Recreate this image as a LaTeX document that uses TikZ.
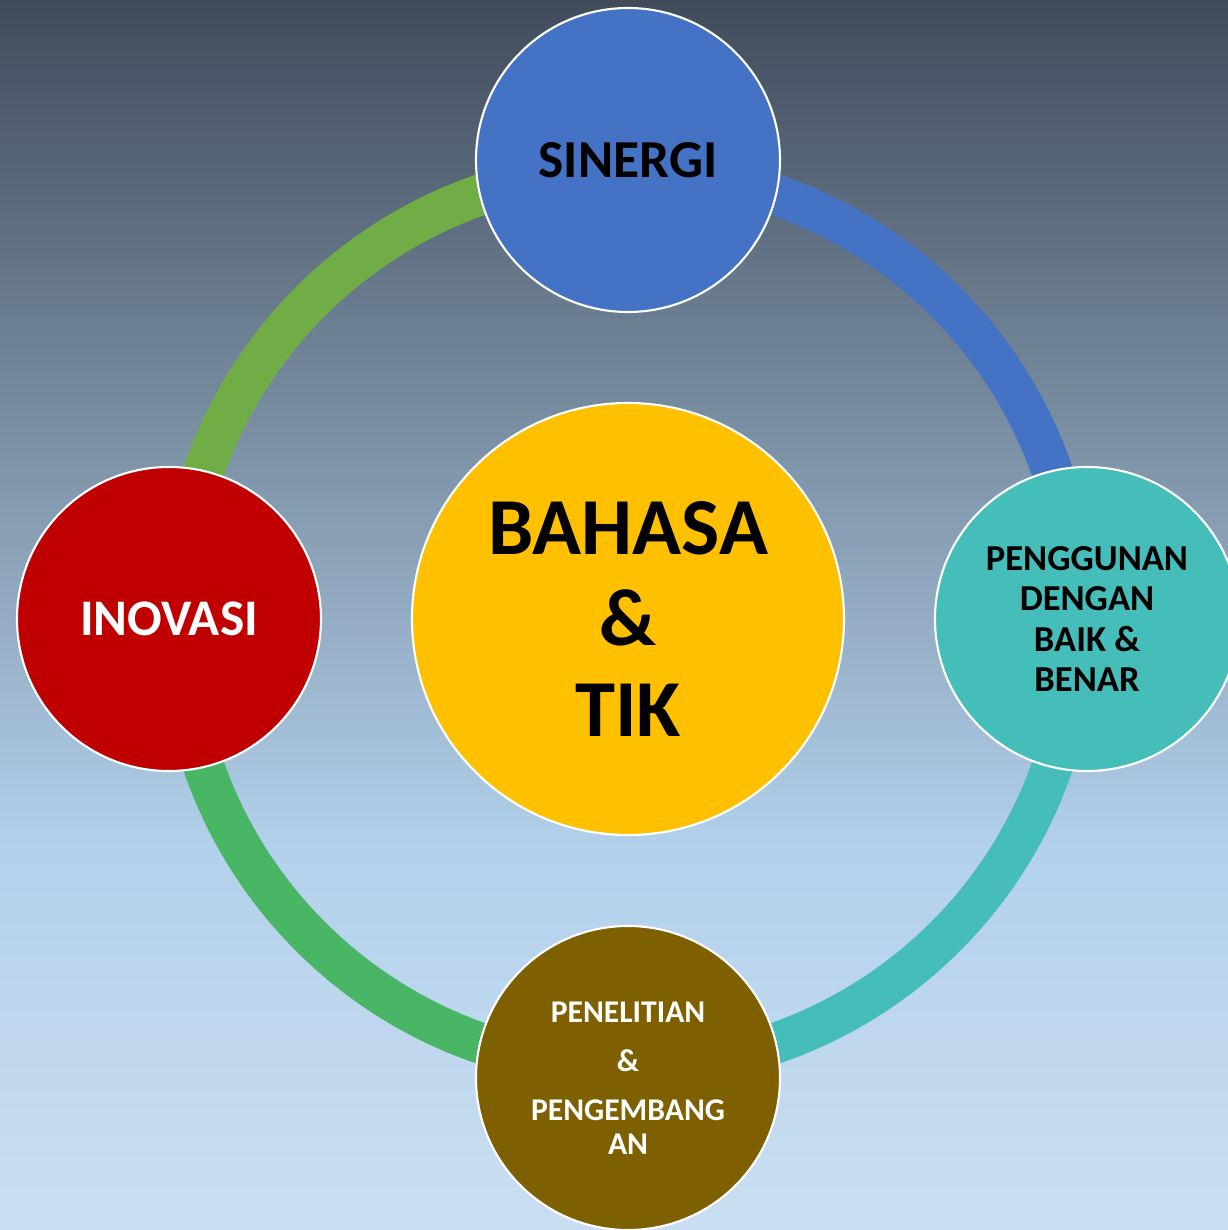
\documentclass[tikz,border=0pt]{standalone}
\usepackage{fontspec}
\setmainfont{Carlito}
\usetikzlibrary{backgrounds,calc}

\definecolor{bgtop}{HTML}{404B5A}
\definecolor{bgmid}{HTML}{B3D1EB}
\definecolor{bgbot}{HTML}{CADEF1}
\definecolor{ringblue}{HTML}{4472C4}
\definecolor{ringteal}{HTML}{45BDB8}
\definecolor{ringgreen}{HTML}{70AD47}
\definecolor{ringgreenb}{HTML}{48B664}
\definecolor{redfill}{HTML}{C00000}
\definecolor{yellowfill}{HTML}{FFC000}
\definecolor{brownfill}{HTML}{7F6000}

\pgfdeclareverticalshading{slide}{100bp}{color(0bp)=(bgbot); color(25bp)=(bgbot); color(40.5bp)=(bgmid); color(75bp)=(bgtop); color(100bp)=(bgtop)}

\tikzset{
  bubble/.style={circle,draw=white,line width=0.6pt,inner sep=0pt,minimum size=3.04cm,align=center,font=\bfseries},
  ring/.style={line width=0.41cm}
}

\begin{document}
\begin{tikzpicture}
\useasboundingbox (-6.28,-6.11) rectangle (6.00,6.19);

% middle
\node[bubble,fill=yellowfill,minimum size=4.32cm,font=\bfseries\fontsize{23}{25.8}\selectfont] (core) at (0,0) {BAHASA\\\&\\TIK};

% four around
\node[bubble,fill=ringblue,font=\bfseries\fontsize{15.2}{17}\selectfont] (sinergi) at (0,4.59) {SINERGI};
\node[bubble,fill=ringteal,font=\bfseries\fontsize{10.4}{11.5}\selectfont] (benar) at (4.59,0) {PENGGUNAN\\DENGAN\\BAIK \&\\BENAR};
\node[bubble,fill=brownfill,text=white,font=\bfseries\fontsize{9}{9.7}\selectfont] (riset) at (0,-4.59) {PENELITIAN\\[4.3pt]\&\\[4.3pt]PENGEMBANG\\AN};
\node[bubble,fill=redfill,text=white,font=\bfseries\fontsize{14.6}{16}\selectfont] (inovasi) at (-4.59,0) {INOVASI};

\begin{scope}[on background layer]
\shade[shading=slide] (-6.28,-6.11) rectangle (6.00,6.19);
\draw[ring,ringblue] ($(core)!4.49cm!(sinergi)$) arc[start angle=90,end angle=0,radius=4.49cm];
\draw[ring,ringteal] ($(core)!4.49cm!(benar)$) arc[start angle=0,end angle=-90,radius=4.49cm];
\draw[ring,ringgreenb] ($(core)!4.49cm!(riset)$) arc[start angle=270,end angle=180,radius=4.49cm];
\draw[ring,ringgreen] ($(core)!4.49cm!(inovasi)$) arc[start angle=180,end angle=90,radius=4.49cm];
\end{scope}
\end{tikzpicture}
\end{document}
